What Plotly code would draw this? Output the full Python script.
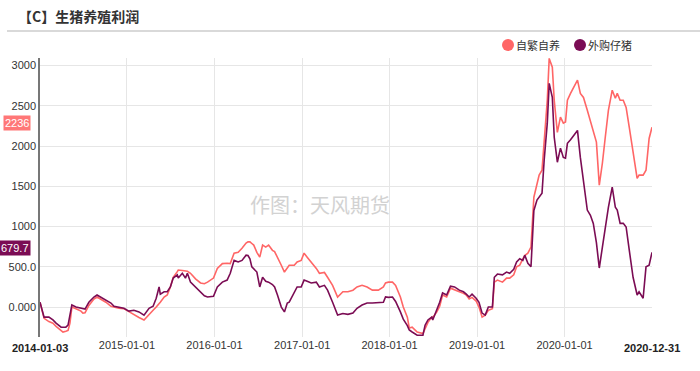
import plotly.graph_objects as go

# ---- data ----
dates = [
    "2014-01-03","2014-01-20","2014-02-09","2014-02-26","2014-03-11","2014-04-01","2014-04-09","2014-04-21",
    "2014-04-30","2014-05-08","2014-05-16","2014-06-02","2014-06-23","2014-07-01","2014-07-10","2014-07-26",
    "2014-08-16","2014-08-29","2014-09-14","2014-10-05","2014-10-26","2014-11-08","2014-11-28","2014-12-19",
    "2015-01-09","2015-01-30","2015-02-20","2015-03-13","2015-04-03","2015-04-20","2015-05-03","2015-05-15",
    "2015-05-20","2015-06-05","2015-06-18","2015-07-01","2015-07-13","2015-07-30","2015-08-03","2015-08-20",
    "2015-09-02","2015-09-10","2015-09-23","2015-10-14","2015-11-04","2015-11-20","2015-12-03","2015-12-16",
    "2015-12-28",
    "2016-01-13","2016-02-03","2016-02-23","2016-03-07","2016-03-23","2016-04-09","2016-04-25","2016-05-12",
    "2016-05-20","2016-05-28","2016-06-05","2016-06-13","2016-06-26","2016-07-08","2016-07-20","2016-08-02",
    "2016-08-14","2016-08-30","2016-09-08","2016-09-20","2016-09-28","2016-10-06","2016-10-19","2016-10-31",
    "2016-11-08","2016-11-29","2016-12-11","2016-12-28",
    "2017-01-09","2017-01-22","2017-02-08","2017-03-01","2017-03-14","2017-04-04","2017-04-17","2017-05-08",
    "2017-05-29","2017-06-20","2017-07-11","2017-08-01","2017-08-18","2017-09-08","2017-09-29","2017-10-21",
    "2017-11-15","2017-12-06","2017-12-15","2017-12-27",
    "2018-01-13","2018-01-26","2018-02-15","2018-02-27","2018-03-16","2018-03-24","2018-04-05","2018-04-26",
    "2018-05-20","2018-05-29","2018-06-10","2018-06-26","2018-06-30","2018-07-17","2018-07-29","2018-08-10",
    "2018-08-27","2018-09-12","2018-09-29","2018-10-19","2018-11-05","2018-11-17","2018-11-29","2018-12-11",
    "2018-12-28",
    "2019-01-09","2019-01-22","2019-02-04","2019-02-17","2019-03-06","2019-03-14","2019-03-27","2019-04-17",
    "2019-05-04","2019-05-17","2019-06-03","2019-06-15","2019-06-28","2019-07-11","2019-07-19","2019-08-01",
    "2019-08-14","2019-08-26","2019-09-08","2019-09-17","2019-09-29","2019-10-08","2019-10-21","2019-10-29",
    "2019-11-11","2019-11-19","2019-12-02","2019-12-15","2019-12-27",
    "2020-01-05","2020-01-13","2020-01-26","2020-02-07","2020-02-24","2020-03-07","2020-03-20","2020-04-05",
    "2020-04-18","2020-04-30","2020-05-13","2020-05-25","2020-06-07","2020-06-19","2020-07-02","2020-07-18",
    "2020-07-31","2020-08-08","2020-08-20","2020-09-02","2020-09-14","2020-09-27","2020-10-13","2020-10-30",
    "2020-11-07","2020-11-24","2020-12-06","2020-12-19","2020-12-31",
]

self_bred = [  # 自繁自养
    60,-140,-180,-200,-240,-290,-310,-300,
    -290,-200,0,-20,-50,-75,-70,20,
    100,125,100,60,10,0,-15,-20,
    -60,-100,-130,-160,-100,-40,0,40,
    60,125,150,250,370,440,460,455,
    450,445,420,350,300,290,310,340,
    360,
    480,540,545,540,670,680,730,795,
    810,810,790,770,680,620,770,745,
    770,705,690,620,580,520,435,480,
    520,520,560,580,
    670,620,560,480,420,430,370,270,
    125,190,190,210,250,270,250,210,
    210,250,300,310,
    310,270,125,0,-125,-260,-250,-310,
    -330,-260,-190,-125,-130,-60,10,150,
    125,235,210,190,170,150,100,120,
    75,
    0,-125,-100,-40,-20,310,335,310,
    360,360,400,500,520,600,640,670,
    745,1365,1550,1640,1700,2035,2570,3090,
    2980,2570,2170,2360,2285,
    2300,2570,2655,2720,2820,2655,2605,2445,
    2300,2195,2050,1515,1790,2110,2445,2695,
    2595,2655,2570,2570,2480,2235,1950,1600,
    1640,1640,1700,2095,2236,
]

bought_piglet = [  # 外购仔猪
    60,-125,-125,-160,-200,-250,-250,-250,
    -225,-100,25,0,-10,-20,-25,60,
    125,150,125,85,50,10,0,-15,
    -50,-40,-60,-100,-15,10,110,250,
    160,190,190,250,360,400,360,420,
    360,420,310,250,190,140,125,135,
    135,
    250,310,335,420,580,560,580,645,
    640,600,500,470,435,250,370,320,
    310,280,250,150,60,0,-60,50,
    60,190,250,250,
    335,320,300,310,250,270,210,60,
    -100,-80,-90,-75,-15,25,50,50,
    55,60,125,120,
    125,70,-60,-150,-230,-285,-310,-350,
    -350,-225,-160,-125,-160,-40,60,175,
    150,260,250,210,190,160,125,160,
    110,
    60,-75,-100,0,0,370,410,400,
    435,420,470,560,600,580,645,545,
    500,1200,1330,1365,1415,1825,2285,2780,
    2605,2110,1800,1975,1860,
    1850,2035,2080,2130,2195,1860,1540,1205,
    1140,1040,800,485,745,1000,1240,1490,
    1240,1205,1040,1040,995,710,370,150,
    190,110,500,520,679.7,
]

series_names = ["自繁自养", "外购仔猪"]
series_colors = ["#FF6666", "#7B0C54"]
label_colors = ["#FF7777", "#7B0C54"]
last_labels = ["2236", "679.7"]

year_ticks = ["2015-01-01", "2016-01-01", "2017-01-01", "2018-01-01", "2019-01-01", "2020-01-01"]
end_ticks = ["2014-01-03", "2020-12-31"]
y_ticks = [0, 500, 1000, 1500, 2000, 2500, 3000]
y_ticktext = ["0.000", "500.0", "1000", "1500", "2000", "2500", "3000"]

FONT = "Arial, 'Liberation Sans', 'Noto Sans CJK SC', sans-serif"
CJK = "'Noto Sans CJK SC', 'Microsoft YaHei', sans-serif"

fig = go.Figure()
for name, vals, col in zip(series_names, [self_bred, bought_piglet], series_colors):
    fig.add_trace(go.Scatter(x=dates, y=vals, mode="lines", name=name,
                             line=dict(color=col, width=1.6), showlegend=False))

fig.update_layout(
    width=700, height=371,
    margin=dict(l=40, r=48, t=58, b=34, autoexpand=False),
    paper_bgcolor="white", plot_bgcolor="white",
    font=dict(family=FONT, size=11, color="#333333"),
    xaxis=dict(
        type="date", range=["2014-01-03", "2020-12-31"],
        tickvals=year_ticks, ticktext=year_ticks,
        showgrid=True, gridcolor="#e6e6e6", gridwidth=1,
        showline=False, zeroline=False, ticks="", automargin=False,
        tickfont=dict(size=11, color="#333333"),
    ),
    yaxis=dict(
        range=[-372, 3095],
        tickvals=y_ticks, ticktext=y_ticktext,
        showgrid=True, gridcolor="#e6e6e6", gridwidth=1,
        showline=True, linecolor="#777777", linewidth=1.5,
        zeroline=False, ticks="", automargin=False,
        tickfont=dict(size=11, color="#333333"),
    ),
    showlegend=False,
)

annotations = []
# bold end labels on x axis
for d in end_ticks:
    annotations.append(dict(x=d, y=0, xref="x", yref="paper", yanchor="top", yshift=-3,
                            text="<b>%s</b>" % d, showarrow=False,
                            font=dict(size=11, color="#222222", family=FONT)))
# last value labels on y axis
for v, txt, col in zip([self_bred[-1], bought_piglet[-1]], last_labels, label_colors):
    annotations.append(dict(x=0, y=v, xref="paper", yref="y", xanchor="right", xshift=-9, yshift=4,
                            text=txt, showarrow=False, bgcolor=col, borderpad=1,
                            font=dict(size=11, color="white", family=FONT)))
# title
annotations.append(dict(x=-0.0385, y=(337 - 16) / 279, xref="paper", yref="paper", xanchor="left", yanchor="middle",
                        text="<b>【C】生猪养殖利润</b>", showarrow=False,
                        font=dict(size=14, color="#333333", family=CJK)))
# watermark
annotations.append(dict(x=(320 - 40) / 612, y=(337 - 204) / 279, xref="paper", yref="paper",
                        text="作图：天风期货", showarrow=False,
                        font=dict(size=20, color="#d2d2d2", family=CJK)))
# legend
leg_x = [508, 580]
for lx, name, col in zip(leg_x, series_names, series_colors):
    annotations.append(dict(x=(lx + 6 - 40) / 612, y=(337 - 45) / 279, xref="paper", yref="paper",
                            xanchor="left", yanchor="middle", text=name, showarrow=False,
                            font=dict(size=11, color="#333333", family=CJK)))
fig.update_layout(annotations=annotations)

shapes = [dict(type="line", xref="paper", yref="paper",
               x0=(7 - 40) / 612, x1=(700 - 40) / 612, y0=(337 - 31) / 279, y1=(337 - 31) / 279,
               line=dict(color="#cccccc", width=1.5))]
for lx, col in zip(leg_x, series_colors):
    shapes.append(dict(type="circle", xref="paper", yref="paper",
                       xsizemode="pixel", ysizemode="pixel",
                       xanchor=(lx - 40) / 612, yanchor=(337 - 45) / 279,
                       x0=-6, x1=6, y0=-6, y1=6,
                       fillcolor=col, line=dict(width=0)))
fig.update_layout(shapes=shapes)

# the page's default 8px body margin would offset the 700x371 figure
fig.write_html("out.html", config={"displayModeBar": False},
               post_script="document.body.style.margin='0';")
